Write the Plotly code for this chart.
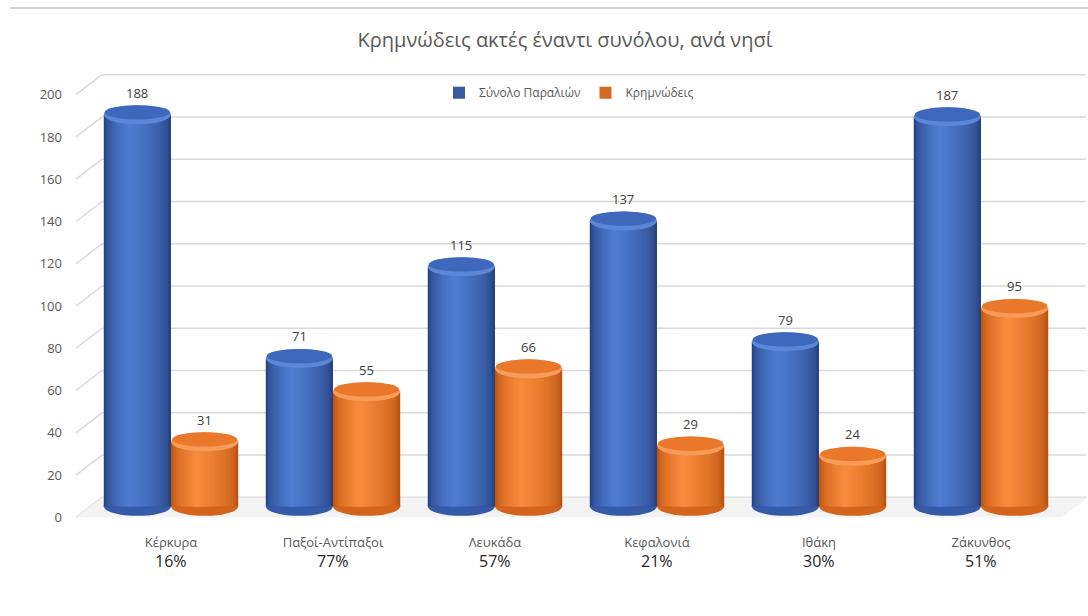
import plotly.graph_objects as go

# ---- data -------------------------------------------------------------
islands = ["Κέρκυρα", "Παξοί-Αντίπαξοι", "Λευκάδα", "Κεφαλονιά", "Ιθάκη", "Ζάκυνθος"]
total_beaches = [188, 71, 115, 137, 79, 187]
cliff_beaches = [31, 55, 66, 29, 24, 95]
series_names = ["Σύνολο Παραλιών", "Κρημνώδεις"]
y_ticks = [0, 20, 40, 60, 80, 100, 120, 140, 160, 180, 200]
title_text = "Κρημνώδεις ακτές έναντι συνόλου, ανά νησί"

# share of cliff beaches per island, shown under each category
shares = [round(100 * c / t) for c, t in zip(cliff_beaches, total_beaches)]

# ---- page geometry (pixels) -------------------------------------------
W, H = 1088, 616


def fx(px):
    return px / W


def fy(py):
    return 1 - py / H


FONT = "Open Sans"
GREY = "#595959"

# front labels: value 0 at 519px, 2.12px per unit
LABEL_ZERO, LABEL_STEP = 519, 2.12
# cylinder bodies sit a little deeper in the scene
CYL_ZERO, CYL_STEP = 508, 2.09
PLOT_TOP, PLOT_BOTTOM = 52.6, 525.4
label_range = [(LABEL_ZERO - PLOT_BOTTOM) / LABEL_STEP, (LABEL_ZERO - PLOT_TOP) / LABEL_STEP]
cyl_range = [(CYL_ZERO - PLOT_BOTTOM) / CYL_STEP, (CYL_ZERO - PLOT_TOP) / CYL_STEP]
y_domain = [fy(PLOT_BOTTOM), fy(PLOT_TOP)]

# categories centred at X0 + i*DX px
X0, DX = 171, 162
PLOT_LEFT = 66
x_range = [(PLOT_LEFT - X0) / DX, (W - X0) / DX]
BAR_W = 0.415

# back wall (grid) is shifted up/right from the front labels
WALL_LEFT, WALL_RIGHT, WALL_LIFT = 102, 1086, 20
STUB_LEFT = 76
RY = 9.5  # half height of the cylinder caps, px

styles = [
    dict(dark=(38, 66, 128), light=(80, 126, 212), cap=(62, 104, 188),
         rim=(92, 134, 214), base=(52, 90, 168)),
    dict(dark=(188, 84, 16), light=(250, 140, 62), cap=(234, 120, 42),
         rim=(248, 154, 88), base=(212, 100, 28)),
]


def mix(c1, c2, t):
    return "rgb(%d,%d,%d)" % tuple(round(a + (b - a) * t) for a, b in zip(c1, c2))


def rgb(c):
    return "rgb(%d,%d,%d)" % c


fig = go.Figure()
shapes = []
annotations = []

# back wall gridlines and the short perspective stubs from the labels
for v in y_ticks:
    shapes.append(dict(type="line", layer="below", xref="paper", yref="y",
                       ysizemode="pixel", yanchor=v, x0=fx(WALL_LEFT), x1=fx(WALL_RIGHT),
                       y0=WALL_LIFT, y1=WALL_LIFT, line=dict(color="#D9D9D9", width=1.5)))
    shapes.append(dict(type="line", layer="below", xref="paper", yref="y",
                       ysizemode="pixel", yanchor=v, x0=fx(STUB_LEFT), x1=fx(WALL_LEFT),
                       y0=0, y1=WALL_LIFT, line=dict(color="#D9D9D9", width=1.5)))

# floor of the scene
floor_path = "M %f %f L %f %f L %f %f L %f %f Z" % (
    fx(STUB_LEFT), fy(LABEL_ZERO), fx(W - 26), fy(LABEL_ZERO),
    fx(W), fy(LABEL_ZERO - WALL_LIFT), fx(WALL_LEFT), fy(LABEL_ZERO - WALL_LIFT))
shapes.append(dict(type="path", layer="below", xref="paper", yref="paper",
                   path=floor_path, fillcolor="#F3F3F3", line=dict(width=0)))

# chart frame edge at the top
shapes.append(dict(type="line", xref="paper", yref="paper", x0=fx(10), x1=1,
                   y0=fy(8), y1=fy(8), line=dict(color="#D4D4D4", width=2)))

# cylinders: stacked narrowing bars give the shaded round body
N_LAYERS = 16
PEAK = 0.38
for si, (vals, name, st) in enumerate(zip([total_beaches, cliff_beaches], series_names, styles)):
    centers = [i + (si - 0.5) * BAR_W for i in range(len(islands))]
    for k in range(N_LAYERS):
        s = k / N_LAYERS
        left = PEAK * s
        right = 1 - (1 - PEAK) * s
        offs = ((left + right) / 2 - 0.5) * BAR_W
        fig.add_bar(
            x=[c + offs for c in centers], y=vals, width=(right - left) * BAR_W,
            yaxis="y2", name=name, legendgroup=name, showlegend=(k == 3),
            marker=dict(color=mix(st["dark"], st["light"], s ** 0.55), line=dict(width=0)),
            hoverinfo="skip" if k else "y+name",
        )
    for c, v in zip(centers, vals):
        # bottom rim
        shapes.append(dict(type="circle", layer="below", xref="x", yref="y2",
                           ysizemode="pixel", yanchor=0, x0=c - BAR_W / 2, x1=c + BAR_W / 2,
                           y0=-RY, y1=RY, fillcolor=rgb(st["base"]), line=dict(width=0)))
        # top cap with a lit front rim
        shapes.append(dict(type="circle", layer="above", xref="x", yref="y2",
                           ysizemode="pixel", yanchor=v, x0=c - BAR_W / 2, x1=c + BAR_W / 2,
                           y0=-RY, y1=RY, fillcolor=rgb(st["rim"]), line=dict(width=0)))
        shapes.append(dict(type="circle", layer="above", xref="x", yref="y2",
                           ysizemode="pixel", yanchor=v, x0=c - BAR_W * 0.485, x1=c + BAR_W * 0.485,
                           y0=-RY * 0.5, y1=RY, fillcolor=rgb(st["cap"]), line=dict(width=0)))
        annotations.append(dict(x=c, y=v, xref="x", yref="y2", text=str(v), showarrow=False,
                                yshift=22, font=dict(family=FONT, size=13, color="#404040")))

# percentage under each island name
for i, p in enumerate(shares):
    annotations.append(dict(x=i, y=fy(563), xref="x", yref="paper", yanchor="middle",
                            text=f"{p}%", showarrow=False,
                            font=dict(family=FONT, size=16, color="#262626")))

fig.update_layout(
    width=W, height=H,
    margin=dict(l=0, r=0, t=0, b=0),
    paper_bgcolor="white", plot_bgcolor="rgba(0,0,0,0)",
    barmode="overlay",
    hovermode=False,
    title=dict(text=title_text, x=fx(565), y=fy(40), xanchor="center", yanchor="middle",
               font=dict(family=FONT, size=20, color=GREY)),
    legend=dict(orientation="h", x=fx(569), y=fy(93), xanchor="center", yanchor="middle",
                font=dict(family=FONT, size=12, color=GREY), bgcolor="rgba(0,0,0,0)"),
    xaxis=dict(domain=[fx(PLOT_LEFT), 1], range=x_range, tickvals=list(range(len(islands))),
               ticktext=islands, showgrid=False, zeroline=False, showline=False, ticks="",
               ticklabelstandoff=9, tickfont=dict(family=FONT, size=13, color=GREY)),
    yaxis=dict(domain=y_domain, range=label_range, tickvals=y_ticks, showgrid=False,
               zeroline=False, showline=False, ticks="", ticklabelstandoff=3,
               tickfont=dict(family=FONT, size=13, color=GREY)),
    yaxis2=dict(overlaying="y", range=cyl_range, visible=False),
    shapes=shapes,
    annotations=annotations,
)

fig.write_html("out.html")
